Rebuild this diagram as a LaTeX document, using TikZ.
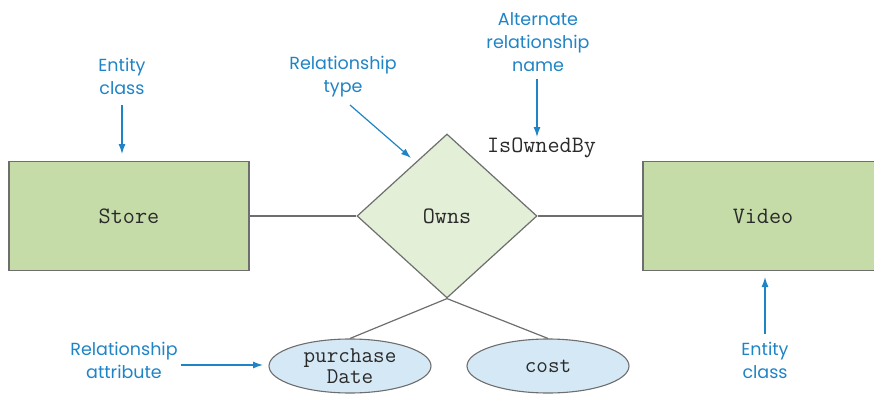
\documentclass[tikz,border=0pt]{standalone}
\usepackage{fontspec}
\setmainfont{Poppins}
\usetikzlibrary{shapes.geometric,arrows.meta}
\definecolor{lblue}{HTML}{1F84C6}
\definecolor{entfill}{HTML}{C5DCA8}
\definecolor{relfill}{HTML}{E3EFD6}
\definecolor{attfill}{HTML}{D5E8F5}
\definecolor{edge}{HTML}{6E6E6E}
\definecolor{mono}{HTML}{2A2A2A}
\tikzset{
  entity/.style={draw=edge, line width=1.4pt, fill=entfill, minimum width=240pt, minimum height=109pt, inner sep=0pt, font=\fontsize{23.5}{24}\ttfamily, text=mono},
  rel/.style={diamond, draw=edge, line width=1.2pt, fill=relfill, minimum width=180pt, minimum height=164pt, inner sep=0pt, font=\fontsize{23.5}{24}\ttfamily, text=mono},
  attr/.style={ellipse, draw=edge, line width=1.1pt, fill=attfill, minimum width=162pt, minimum height=54pt, inner sep=0pt, align=center, font=\fontsize{22.5}{21.5}\ttfamily, text=mono},
  conn/.style={draw=edge, line width=1.2pt},
  lbl/.style={align=center, text=lblue, font=\fontsize{17.5}{23}\selectfont, inner sep=0pt},
  monolbl/.style={font=\fontsize{23.5}{24}\ttfamily, text=mono, inner sep=0pt},
  arr/.style={draw=lblue, line width=1.2pt, -{Latex[length=10pt,width=7pt]}}
}
\begin{document}
\begin{tikzpicture}[x=1pt,y=-1pt]
\useasboundingbox (0,0) rectangle (874,393);
\clip (0,0) rectangle (874,393);
% main shapes
\node[entity] (store) at (129,216) {Store};
\node[rel] (owns) at (447,216) {Owns};
\node[entity] (video) at (763,216) {Video};
\node[attr] (pd) at (350,366) {purchase\\Date};
\node[attr] (cost) at (548,366) {cost};
\node[monolbl] (isowned) at (541.5,148) {IsOwnedBy};
% connectors
\draw[conn] (store.east) -- (owns.west);
\draw[conn] (owns.east) -- (video.west);
\draw[conn] (owns.south) -- (pd.north);
\draw[conn] (owns.south) -- (cost.north);
% labels
\node[lbl] (l1) at (122,76.5) {Entity\\class};
\node[lbl] (l2) at (343,76.5) {Relationship\\type};
\node[lbl] (l3) at (538,42.5) {Alternate\\relationship\\name};
\node[lbl] (l4) at (765,360.5) {Entity\\class};
\node[lbl] (l5) at (124,360.5) {Relationship\\attribute};
% arrow coordinates
\coordinate (s1) at (122,105); \coordinate (e1) at (122,154);
\coordinate (s2) at (350,105); \coordinate (e2) at (411,158);
\coordinate (s3) at (537,79);  \coordinate (e3) at (537,137);
\coordinate (s4) at (765,334); \coordinate (e4) at (765,277);
\coordinate (s5) at (181,365); \coordinate (e5) at (263,365);
\draw[arr] (s1) -- (e1);
\draw[arr] (s2) -- (e2);
\draw[arr] (s3) -- (e3);
\draw[arr] (s4) -- (e4);
\draw[arr] (s5) -- (e5);
\end{tikzpicture}
\end{document}
